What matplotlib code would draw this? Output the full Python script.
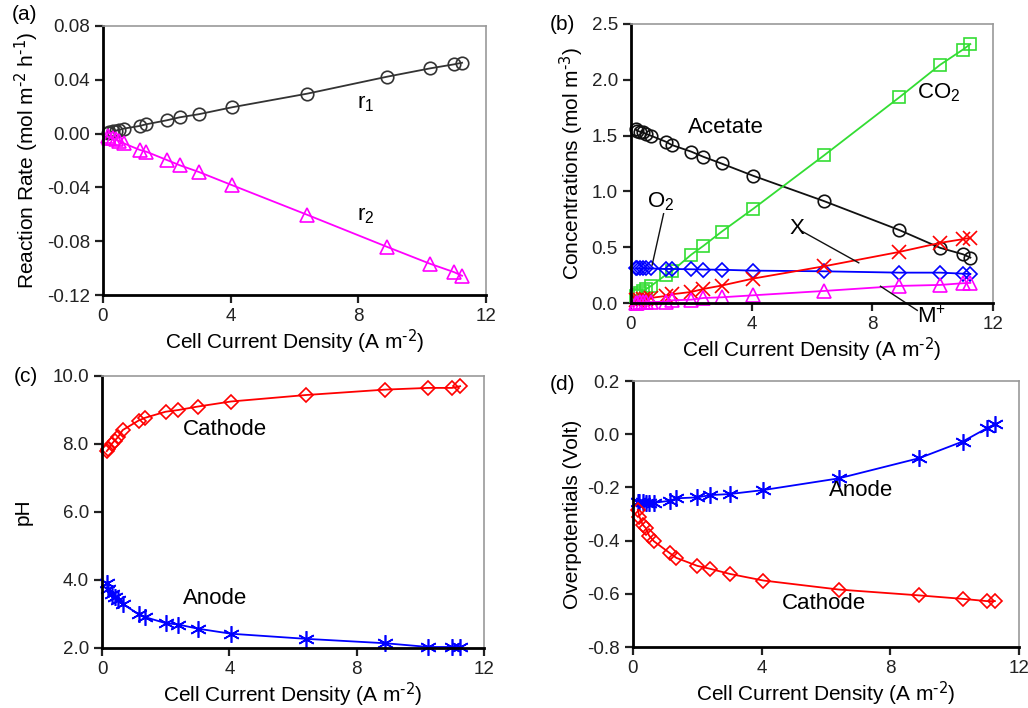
import matplotlib
matplotlib.use("Agg")
import matplotlib.pyplot as plt

plt.rcParams['font.family'] = ['Liberation Sans', 'DejaVu Sans']
plt.rcParams['mathtext.default'] = 'regular'

# cell current density (A m-2), shared by all four panels
current = [0.15, 0.2, 0.3, 0.4, 0.5, 0.65, 1.15, 1.35, 2.0, 2.4, 3.0, 4.05, 6.4, 8.9, 10.25, 11.0, 11.25]

# (a) reaction rates
r1 = [0.0007, 0.0012, 0.0017, 0.0022, 0.0028, 0.0037, 0.0057, 0.0069, 0.0099, 0.0121,
      0.0144, 0.0196, 0.0297, 0.0423, 0.0485, 0.0515, 0.0527]
r2 = [-0.002, -0.003, -0.0035, -0.0042, -0.0055, -0.0072, -0.0121, -0.0134, -0.0196, -0.0235,
      -0.0285, -0.0384, -0.0604, -0.0842, -0.0968, -0.103, -0.1057]

# (b) concentrations
acetate = [1.557, 1.545, 1.535, 1.528, 1.515, 1.50, 1.446, 1.416, 1.356, 1.31,
           1.25, 1.14, 0.913, 0.653, 0.494, 0.437, 0.407]
co2 = [0.06, 0.075, 0.09, 0.105, 0.125, 0.15, 0.251, 0.284, 0.434, 0.512,
       0.638, 0.844, 1.323, 1.844, 2.135, 2.27, 2.32]
o2 = [0.31, 0.31, 0.31, 0.31, 0.31, 0.31, 0.305, 0.305, 0.302, 0.30,
      0.298, 0.29, 0.284, 0.272, 0.272, 0.263, 0.26]
x_conc = [0.027, 0.029, 0.031, 0.036, 0.04, 0.045, 0.063, 0.078, 0.099, 0.126,
          0.156, 0.219, 0.329, 0.458, 0.539, 0.572, 0.584]
m_plus = [0.003, 0.004, 0.005, 0.006, 0.007, 0.008, 0.012, 0.024, 0.03, 0.045,
          0.051, 0.069, 0.108, 0.153, 0.162, 0.177, 0.18]

# (c) pH
ph_cathode = [7.79, 7.85, 8.0, 8.1, 8.2, 8.41, 8.69, 8.77, 8.95, 9.0,
              9.1, 9.25, 9.44, 9.6, 9.65, 9.65, 9.7]
ph_anode = [3.91, 3.74, 3.6, 3.5, 3.42, 3.3, 2.99, 2.91, 2.73, 2.69,
            2.57, 2.42, 2.27, 2.14, 2.03, 2.03, 2.03]

# (d) overpotentials
eta_anode = [-0.255, -0.256, -0.256, -0.257, -0.257, -0.258, -0.25, -0.241, -0.2375, -0.229,
             -0.225, -0.21, -0.166, -0.09, -0.0275, 0.0225, 0.0375]
eta_cathode = [-0.285, -0.31, -0.34, -0.353, -0.381, -0.4025, -0.4475, -0.465, -0.495, -0.506,
               -0.525, -0.55, -0.584, -0.606, -0.619, -0.6275, -0.6275]

W, H = 1028, 708
LABEL_FS = 15
NOTE_FS = 16
TICK_FS = 13.5
fig = plt.figure(figsize=(W / 100, H / 100), dpi=100)


def make_axes(left, top, right, bottom):
    ax = fig.add_axes([left / W, 1 - bottom / H, (right - left) / W, (bottom - top) / H])
    ax.spines['left'].set_linewidth(2.0)
    ax.spines['bottom'].set_linewidth(2.0)
    ax.spines['top'].set_color('#999999')
    ax.spines['right'].set_color('#999999')
    ax.spines['top'].set_linewidth(1.2)
    ax.spines['right'].set_linewidth(1.2)
    ax.tick_params(direction='out', length=6, width=1.6, labelsize=TICK_FS, colors='#222222')
    ax.set_xlim(0, 12)
    ax.set_xticks([0, 4, 8, 12])
    ax.set_xlabel(r'Cell Current Density (A m$^{\text{-2}}$)', fontsize=LABEL_FS, labelpad=2)
    return ax


def series(ax, y, color, marker, ms=8):
    kw = dict(color=color, lw=1.3, marker=marker, markersize=ms, markeredgewidth=1.2, clip_on=False)
    if marker not in ('x', '+'):
        kw['markerfacecolor'] = 'none'
    ax.plot(current, y, **kw)


# (a) reaction rate
ax_a = make_axes(103, 26, 486, 295)
series(ax_a, r1, '#333333', 'o', 9)
series(ax_a, r2, '#ff00ff', '^', 10)
ax_a.set_ylim(-0.12, 0.08)
ax_a.set_yticks([-0.12, -0.08, -0.04, 0.0, 0.04, 0.08])
ax_a.set_yticklabels(['-0.12', '-0.08', '-0.04', '0.00', '0.04', '0.08'])
ax_a.set_ylabel(r'Reaction Rate (mol m$^{\text{-2}}$ h$^{\text{-1}}$)', fontsize=LABEL_FS)
ax_a.text(8.22, 0.0225, 'r$_1$', fontsize=NOTE_FS, ha='center', va='center')
ax_a.text(8.22, -0.061, 'r$_2$', fontsize=NOTE_FS, ha='center', va='center')
fig.text(12 / W, 1 - 14 / H, '(a)', fontsize=LABEL_FS, va='center')

# (b) concentrations
ax_b = make_axes(631, 24, 993, 303)
series(ax_b, acetate, '#111111', 'o', 9)
series(ax_b, co2, '#33dd33', 's', 8.5)
series(ax_b, o2, '#0000ff', 'D', 7.5)
series(ax_b, x_conc, '#ff0000', 'x', 10)
series(ax_b, m_plus, '#ff00ff', '^', 10)
ax_b.set_ylim(0, 2.5)
ax_b.set_yticks([0, 0.5, 1.0, 1.5, 2.0, 2.5])
ax_b.set_yticklabels(['0.0', '0.5', '1.0', '1.5', '2.0', '2.5'])
ax_b.set_ylabel(r'Concentrations (mol m$^{\text{-3}}$)', fontsize=LABEL_FS)
ax_b.text(3.13, 1.57, 'Acetate', fontsize=NOTE_FS, ha='center', va='center')
ax_b.text(10.2, 1.88, 'CO$_2$', fontsize=NOTE_FS, ha='center', va='center')
ax_b.text(0.97, 0.91, 'O$_2$', fontsize=NOTE_FS, ha='center', va='center')
ax_b.text(5.5, 0.67, 'X', fontsize=NOTE_FS, ha='center', va='center')
ax_b.text(9.95, -0.13, 'M$^{+}$', fontsize=NOTE_FS, ha='center', va='center')
ax_b.plot([1.08, 0.70], [0.80, 0.34], color='#111111', lw=1.0)
ax_b.plot([5.62, 7.55], [0.65, 0.36], color='#111111', lw=1.0)
ax_b.plot([8.27, 9.49], [0.15, -0.066], color='#111111', lw=1.0, clip_on=False)
fig.text(550 / W, 1 - 24 / H, '(b)', fontsize=LABEL_FS, va='center')

# (c) pH
ax_c = make_axes(102, 376, 484, 648)
series(ax_c, ph_cathode, '#ff0000', 'D', 7.5)
series(ax_c, ph_anode, '#0000ff', (6, 2, 0), 12)
ax_c.set_ylim(2, 10)
ax_c.set_yticks([2, 4, 6, 8, 10])
ax_c.set_yticklabels(['2.0', '4.0', '6.0', '8.0', '10.0'])
ax_c.set_ylabel('pH', fontsize=LABEL_FS, labelpad=14)
ax_c.text(3.87, 8.44, 'Cathode', fontsize=NOTE_FS, ha='center', va='center')
ax_c.text(3.56, 3.45, 'Anode', fontsize=NOTE_FS, ha='center', va='center')
fig.text(14 / W, 1 - 376 / H, '(c)', fontsize=LABEL_FS, va='center')

# (d) overpotentials
ax_d = make_axes(633, 381, 1019, 647)
series(ax_d, eta_anode, '#0000ff', (6, 2, 0), 12)
series(ax_d, eta_cathode, '#ff0000', 'D', 7.5)
ax_d.set_ylim(-0.8, 0.2)
ax_d.set_yticks([-0.8, -0.6, -0.4, -0.2, 0.0, 0.2])
ax_d.set_yticklabels(['-0.8', '-0.6', '-0.4', '-0.2', '0.0', '0.2'])
ax_d.set_ylabel('Overpotentials (Volt)', fontsize=LABEL_FS)
ax_d.text(7.08, -0.2125, 'Anode', fontsize=NOTE_FS, ha='center', va='center')
ax_d.text(5.94, -0.635, 'Cathode', fontsize=NOTE_FS, ha='center', va='center')
fig.text(550 / W, 1 - 384 / H, '(d)', fontsize=LABEL_FS, va='center')

fig.savefig('out.png', dpi=100)
